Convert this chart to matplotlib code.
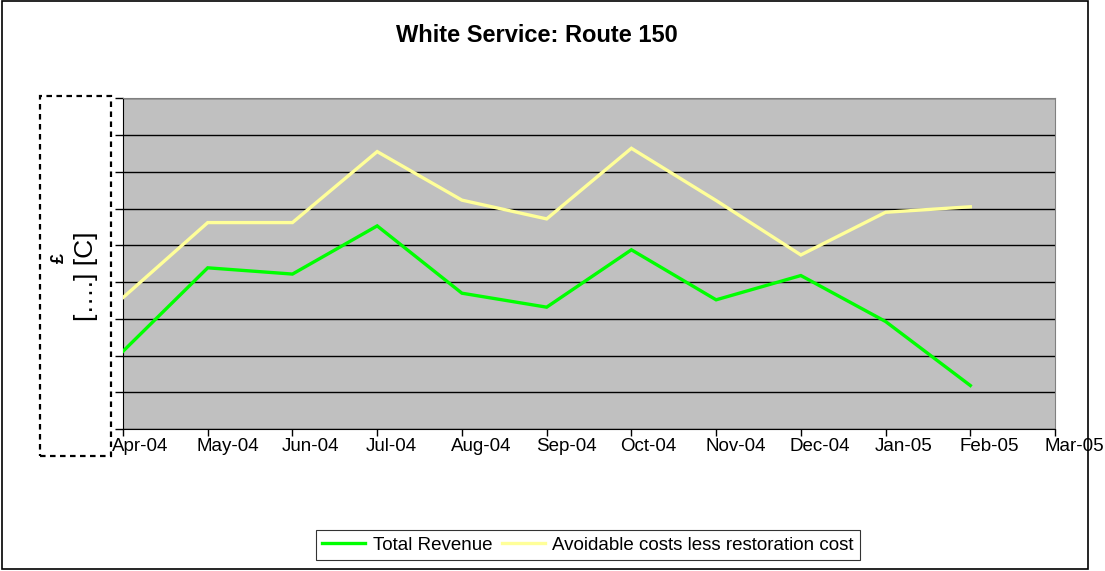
import matplotlib
matplotlib.use("Agg")
import matplotlib.pyplot as plt
import matplotlib.transforms as mtransforms
from matplotlib.patches import Rectangle

# months on the x axis (Excel date axis, one category per month)
months = ['Apr-04', 'May-04', 'Jun-04', 'Jul-04', 'Aug-04', 'Sep-04',
          'Oct-04', 'Nov-04', 'Dec-04', 'Jan-05', 'Feb-05', 'Mar-05']

total_revenue = [2.12, 4.39, 4.22, 5.53, 3.70, 3.32, 4.88, 3.52, 4.18, 2.93, 1.19]
avoidable_costs = [3.58, 5.62, 5.62, 7.55, 6.23, 5.72, 7.64, 6.22, 4.74, 5.90, 6.05]

plt.rcParams['font.family'] = ['Liberation Sans', 'DejaVu Sans']

fig = plt.figure(figsize=(11.05, 5.71), dpi=100)
ax = fig.add_axes([0.1113, 0.2482, 0.8435, 0.5797])
ax.set_facecolor('#c0c0c0')

x = list(range(len(total_revenue)))
ax.plot(x, total_revenue, color='#00ff00', lw=2.4, label='Total Revenue',
        solid_joinstyle='miter', zorder=3)
ax.plot(x, avoidable_costs, color='#ffff99', lw=2.4,
        label='Avoidable costs less restoration cost',
        solid_joinstyle='miter', zorder=3)

ax.set_xlim(0, len(months) - 1)
ax.set_ylim(0, 9)
ax.set_yticks(range(10))
ax.set_yticklabels([])
ax.yaxis.grid(True, color='black', lw=1)
ax.set_axisbelow(True)
ax.tick_params(axis='y', direction='out', length=6, width=1)

ax.set_xticks(range(len(months)))
ax.set_xticklabels(months, fontsize=13.5, ha='left')
ax.tick_params(axis='x', direction='out', length=5, width=1, pad=1)
shift = mtransforms.ScaledTranslation(-11 / 100, 0, fig.dpi_scale_trans)
for lab in ax.get_xticklabels():
    lab.set_transform(lab.get_transform() + shift)

for side in ['top', 'right']:
    ax.spines[side].set_color('#808080')
for side in ['left', 'bottom']:
    ax.spines[side].set_color('black')

fig.text(537 / 1105, 1 - 35 / 571, 'White Service: Route 150', ha='center',
         va='center', fontsize=17, fontweight='bold')

# redaction box on the y axis
fig.add_artist(Rectangle((40 / 1105, 1 - 456 / 571), 71 / 1105, 360 / 571,
                         transform=fig.transFigure, fill=False,
                         edgecolor='black', lw=1.6, linestyle=(0, (2.5, 2))))
fig.text(86 / 1105, 1 - 276 / 571, '[….] [C]', rotation=90, ha='center',
         va='center', fontsize=19, family=['Liberation Sans', 'DejaVu Sans'])
fig.text(59 / 1105, 1 - 258 / 571, '£', rotation=90, ha='center',
         va='center', fontsize=13, fontweight='bold',
         family=['Liberation Sans', 'DejaVu Sans'])

# outer chart border
fig.add_artist(Rectangle((1.5 / 1105, 2 / 571), 1086 / 1105, 568 / 571,
                         transform=fig.transFigure, fill=False,
                         edgecolor='black', lw=1.2))

leg = fig.legend(loc='center', bbox_to_anchor=(588 / 1105, 1 - 545 / 571),
                 ncol=2, fontsize=13.5, frameon=True, fancybox=False,
                 edgecolor='black', handlelength=2.3, handletextpad=0.4,
                 columnspacing=0.5, borderpad=0.35)
leg.get_frame().set_linewidth(0.8)

fig.savefig('out.png', dpi=100)
